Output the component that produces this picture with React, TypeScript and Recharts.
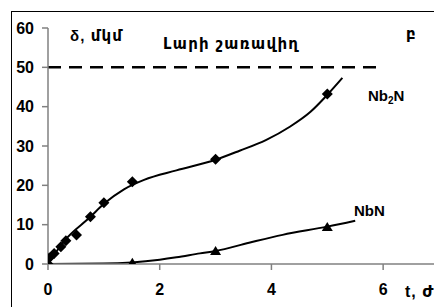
import React from "react";
import {
  ComposedChart,
  Line,
  Scatter,
  XAxis,
  YAxis,
  ReferenceLine,
} from "recharts";

// Nb2N measured points (diamonds)
const nb2nPointT = [0, 0.02, 0.11, 0.23, 0.32, 0.51, 0.76, 1.0, 1.51, 3.0, 5.0];
const nb2nPointV = [0, 1.5, 2.7, 4.4, 5.9, 7.4, 12.0, 15.6, 20.9, 26.6, 43.2];

// Nb2N fitted curve
const nb2nCurveT = [0, 0.3, 0.76, 1.0, 1.36, 1.72, 2.3, 3.0, 3.43, 3.9, 4.33, 4.7, 5.0, 5.27];
const nb2nCurveV = [0, 6.0, 12.0, 15.3, 19.0, 21.4, 23.8, 26.5, 28.8, 31.5, 34.9, 38.7, 43.0, 47.3];

// NbN measured points (triangles)
const nbnPointT = [1.51, 3.0, 5.0];
const nbnPointV = [0.3, 3.3, 9.4];

// NbN fitted curve
const nbnCurveT = [0, 1.0, 1.5, 2.0, 2.3, 2.72, 3.0, 3.6, 4.2, 5.0, 5.5];
const nbnCurveV = [0, 0.1, 0.4, 1.1, 1.7, 2.7, 3.3, 5.4, 7.4, 9.5, 11.0];

const xTicks = [0, 2, 4, 6];
const yTicks = [0, 10, 20, 30, 40, 50, 60];
const wireRadius = 50;

const zip = (ts: number[], vs: number[]) => ts.map((t, i) => ({ t, v: vs[i] }));

const nb2nPoints = zip(nb2nPointT, nb2nPointV);
const nb2nCurve = zip(nb2nCurveT, nb2nCurveV);
const nbnPoints = zip(nbnPointT, nbnPointV);
const nbnCurve = zip(nbnCurveT, nbnCurveV);

const FONT = "Arial, 'Liberation Sans', 'DejaVu Sans', sans-serif";

const Diamond = (props: any) => {
  const { cx, cy } = props;
  const r = 5.5;
  return (
    <path
      d={`M${cx},${cy - r}L${cx + r},${cy}L${cx},${cy + r}L${cx - r},${cy}Z`}
      fill="#000"
    />
  );
};

const Triangle = (props: any) => {
  const { cx, cy } = props;
  return (
    <path
      d={`M${cx},${cy - 5}L${cx + 5.5},${cy + 4}L${cx - 5.5},${cy + 4}Z`}
      fill="#000"
    />
  );
};

const tickStyle = {
  fill: "#000",
  fontSize: 16,
  fontWeight: 700,
  fontFamily: FONT,
};

export default function App() {
  return (
    <div
      style={{
        position: "relative",
        width: 434,
        height: 299,
        overflow: "hidden",
        background: "#fff",
      }}
    >
      <div
        style={{
          position: "absolute",
          left: 3,
          top: 3,
          width: 460,
          height: 320,
          border: "1px solid #000",
          boxSizing: "border-box",
        }}
      />
      <ComposedChart
        width={434}
        height={299}
        margin={{ top: 20, right: 3, left: 0, bottom: 0 }}
        style={{ position: "absolute", left: 0, top: 0 }}
      >
        <XAxis
          type="number"
          dataKey="t"
          domain={[0, 7]}
          ticks={xTicks}
          allowDataOverflow
          height={43}
          tickSize={6}
          tickMargin={14}
          axisLine={{ stroke: "#808080", strokeWidth: 1.5 }}
          tickLine={{ stroke: "#808080", strokeWidth: 1.5 }}
          tick={tickStyle}
        />
        <YAxis
          type="number"
          domain={[0, 60]}
          ticks={yTicks}
          allowDataOverflow
          width={40}
          tickSize={6}
          tickMargin={8}
          axisLine={{ stroke: "#808080", strokeWidth: 1.5 }}
          tickLine={{ stroke: "#808080", strokeWidth: 1.5 }}
          tick={tickStyle}
        />
        <ReferenceLine
          segment={[
            { x: 0, y: wireRadius },
            { x: 6, y: wireRadius },
          ]}
          stroke="#000"
          strokeWidth={2.5}
          strokeDasharray="13 8"
        />
        <Line
          data={nb2nCurve}
          dataKey="v"
          type="monotone"
          stroke="#000"
          strokeWidth={2}
          dot={false}
          activeDot={false}
          isAnimationActive={false}
        />
        <Line
          data={nbnCurve}
          dataKey="v"
          type="monotone"
          stroke="#000"
          strokeWidth={2}
          dot={false}
          activeDot={false}
          isAnimationActive={false}
        />
        <Scatter
          data={nb2nPoints}
          dataKey="v"
          shape={Diamond}
          isAnimationActive={false}
        />
        <Scatter
          data={nbnPoints}
          dataKey="v"
          shape={Triangle}
          isAnimationActive={false}
        />
      </ComposedChart>
      <svg
        width={434}
        height={299}
        style={{ position: "absolute", left: 0, top: 0, pointerEvents: "none" }}
        fontFamily={FONT}
        fontWeight={700}
        fontSize={15}
        fill="#000"
      >
        <text x={62} y={33} textLength={52} lengthAdjust="spacing">δ, մկմ</text>
        <text x={155} y={41} textLength={135} lengthAdjust="spacing">Լարի շառավիղ</text>
        <text x={398} y={31}>բ</text>
        <text x={360} y={93}>
          Nb<tspan fontSize={10} dy={3}>2</tspan>
          <tspan dy={-3}>N</tspan>
        </text>
        <text x={346} y={207.5}>NbN</text>
        <text x={397} y={289} fontSize={16} letterSpacing={1}>t, ժ</text>
      </svg>
    </div>
  );
}
